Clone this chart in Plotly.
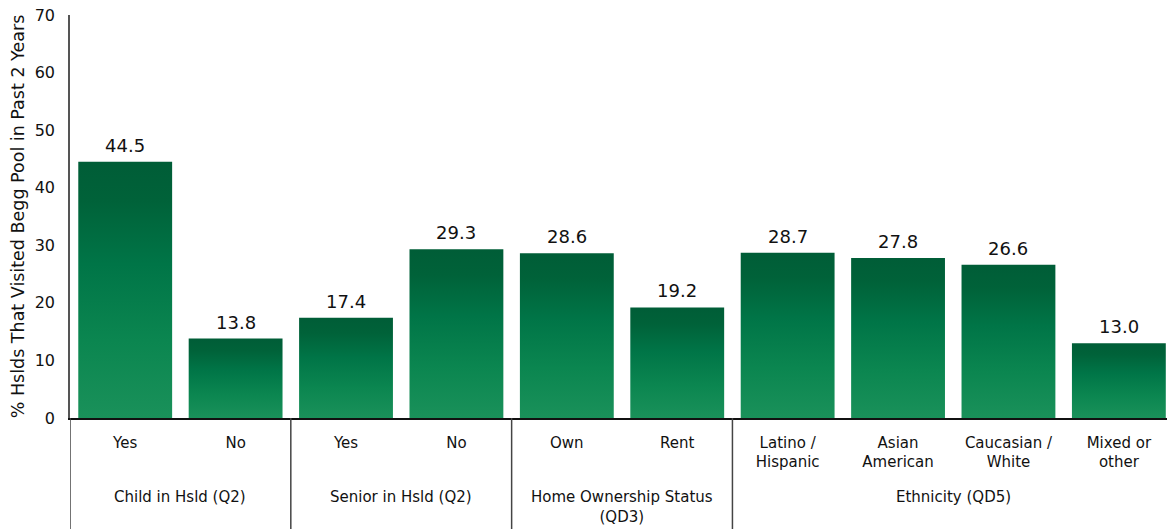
import plotly.graph_objects as go

categories = ["Yes", "No", "Yes", "No", "Own", "Rent",
              "Latino /<br>Hispanic", "Asian<br>American", "Caucasian /<br>White", "Mixed or<br>other"]
groups = ["Child in Hsld (Q2)", "Senior in Hsld (Q2)",
          "Home Ownership Status<br>(QD3)", "Ethnicity (QD5)"]
group_sizes = [2, 2, 2, 4]
values = [44.5, 13.8, 17.4, 29.3, 28.6, 19.2, 28.7, 27.8, 26.6, 13.0]

FONT = "DejaVu Sans"
BAR_W = 0.85
GRAD = [[0.0, "#1a915a"], [0.3, "#0b8650"], [0.6, "#007547"], [0.85, "#006239"], [1.0, "#005d37"]]

W, H = 1167, 529
M_L, M_R, M_T, M_B = 70, 0, 15, 111
plot_h = H - M_T - M_B

fig = go.Figure()
for i, v in enumerate(values):
    fig.add_trace(go.Scatter(
        x=[i - BAR_W / 2, i + BAR_W / 2, i + BAR_W / 2, i - BAR_W / 2, i - BAR_W / 2],
        y=[0, 0, v, v, 0],
        mode="lines", line=dict(width=0), fill="toself",
        fillgradient=dict(type="vertical", colorscale=GRAD),
        hoverinfo="skip", showlegend=False,
    ))

annotations = []
for i, v in enumerate(values):
    annotations.append(dict(
        x=i, y=v, xref="x", yref="y", text=f"{v:.1f}", showarrow=False,
        yanchor="bottom", yshift=4,
        font=dict(family=FONT, size=18, color="#111111"),
    ))

# group labels and dividers
start = 0
shapes = []
bounds = [-0.5]
for g, n in zip(groups, group_sizes):
    center = start + (n - 1) / 2
    annotations.append(dict(
        x=center, xref="x", y=-68 / plot_h, yref="paper",
        text=g, showarrow=False, yanchor="top", align="center",
        font=dict(family=FONT, size=15, color="#111111"),
    ))
    start += n
    bounds.append(start - 0.5)
for b in bounds[:-1]:
    shapes.append(dict(type="line", xref="x", yref="paper", x0=b, x1=b,
                       y0=0, y1=-M_B / plot_h,
                       line=dict(color="#444444", width=1.5)))

fig.update_layout(
    width=W, height=H,
    margin=dict(l=M_L, r=M_R, t=M_T, b=M_B),
    plot_bgcolor="white", paper_bgcolor="white",
    font=dict(family=FONT, size=15, color="#111111"),
    shapes=shapes, annotations=annotations,
    xaxis=dict(
        range=[-0.5, 9.436], tickmode="array",
        tickvals=list(range(len(values))), ticktext=categories,
        showgrid=False, zeroline=False, showline=True,
        linecolor="#111111", linewidth=1.5, ticks="",
        ticklabelstandoff=10, automargin=False, ticklabeloverflow="allow",
        tickfont=dict(family=FONT, size=15, color="#111111"),
    ),
    yaxis=dict(
        range=[0, 70], dtick=10, showgrid=False, zeroline=False,
        showline=True, linecolor="#555555", linewidth=1.5, ticks="",
        ticklabelstandoff=10, automargin=False, ticklabeloverflow="allow",
        tickfont=dict(family=FONT, size=16, color="#111111"),
        title=dict(text="% Hslds That Visited Begg Pool in Past 2 Years",
                   font=dict(family=FONT, size=17.5, color="#111111"), standoff=6),
    ),
)

fig.write_html("out.html", config={"displayModeBar": False},
               post_script="document.body.style.margin='0';document.body.style.overflow='hidden';")
